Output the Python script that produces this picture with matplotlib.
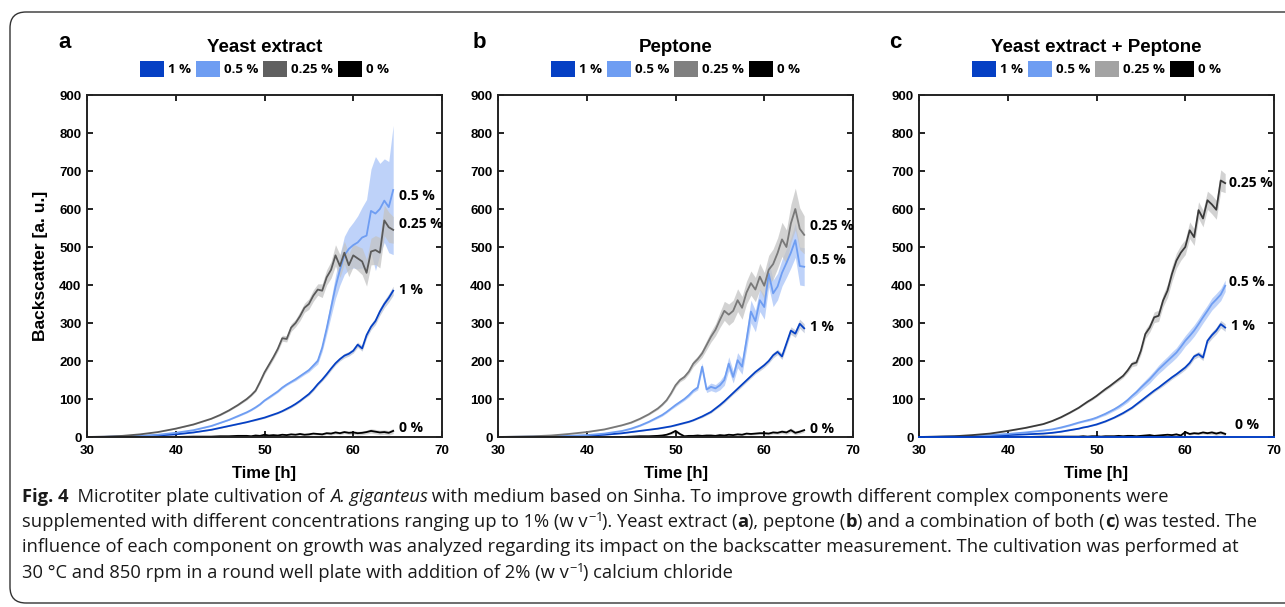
import matplotlib
matplotlib.use("Agg")
import numpy as np
import matplotlib.pyplot as plt
from matplotlib.patches import Patch, FancyBboxPatch

# time grid [h]
T = [30, 32, 34, 36, 38, 40, 42, 44, 45, 46, 47,
     48, 48.5, 49, 49.5, 50, 50.5, 51, 51.5, 52, 52.5,
     53, 53.5, 54, 54.5, 55, 55.5, 56, 56.5, 57, 57.5,
     58, 58.5, 59, 59.5, 60, 60.5, 61, 61.5, 62, 62.5,
     63, 63.5, 64, 64.5]

# panel a: yeast extract (mean and spread of backscatter)
a_1 = [0, 0.3, 1, 2, 4, 7, 12, 19, 24, 29, 34,
       39, 42, 45, 48, 51, 55, 59, 63, 68, 74,
       80, 87, 95, 104, 113, 125, 139, 151, 165, 180,
       194, 205, 214, 219, 227, 243, 233, 268, 290, 305,
       330, 350, 366, 385]
a_1_sd = [0, 0, 0, 0, 0, 1, 1, 1, 1, 1, 1,
          1, 1, 2, 2, 2, 2, 2, 2, 2, 3,
          3, 3, 3, 3, 4, 4, 4, 4, 5, 5,
          5, 5, 6, 6, 6, 7, 7, 8, 8, 9,
          10, 10, 11, 12]
a_05 = [0, 0.5, 1.5, 3, 6, 11, 18, 29, 37, 45, 55,
        65, 71, 78, 86, 96, 104, 112, 120, 130, 138,
        145, 152, 160, 168, 176, 188, 200, 235, 285, 340,
        395, 440, 478, 495, 505, 512, 525, 530, 595, 588,
        600, 622, 605, 650]
a_05_sd = [0, 0, 0, 0, 0, 1, 1, 1, 1, 1, 2,
           2, 2, 2, 2, 2, 3, 3, 3, 3, 3,
           3, 4, 4, 4, 5, 6, 8, 10, 15, 22,
           30, 40, 50, 55, 60, 70, 80, 95, 110, 150,
           120, 110, 120, 170]
a_025 = [0, 1, 3, 7, 13, 22, 33, 48, 58, 70, 84,
         100, 110, 122, 145, 170, 190, 210, 232, 260, 258,
         288, 300, 318, 340, 350, 372, 388, 385, 420, 440,
         478, 450, 485, 452, 478, 470, 462, 432, 488, 492,
         485, 570, 552, 545]
a_025_sd = [0, 0, 0, 0, 0, 1, 1, 1, 2, 2, 2,
            3, 3, 3, 4, 5, 6, 6, 7, 8, 8,
            10, 10, 12, 12, 14, 15, 15, 18, 20, 22,
            28, 30, 30, 30, 30, 32, 35, 35, 35, 38,
            40, 40, 40, 35]
a_0 = [0, 0, 0, 0, 0, 0, 1, 1, 2, 2, 3,
       3, 2, 4, 3, 6, 4, 5, 4, 6, 5,
       7, 6, 8, 6, 7, 9, 8, 7, 10, 9,
       12, 10, 13, 11, 12, 10, 11, 13, 16, 14,
       12, 13, 11, 16]
a_0_sd = [0, 0, 0, 0, 0, 0, 0, 1, 1, 1, 1,
          1, 1, 1, 1, 2, 2, 2, 2, 2, 2,
          2, 2, 3, 3, 3, 3, 3, 3, 3, 4,
          4, 4, 4, 4, 5, 5, 5, 5, 6, 6,
          6, 6, 6, 7]

# panel b: peptone
b_1 = [0, 0.2, 0.5, 1, 2, 3, 6, 10, 13, 16, 19,
       22, 24, 26, 28, 31, 34, 37, 40, 44, 49,
       54, 60, 66, 75, 84, 94, 105, 116, 127, 138,
       149, 160, 171, 180, 189, 200, 215, 224, 212, 246,
       280, 272, 298, 286]
b_1_sd = [0, 0, 0, 0, 0, 0, 1, 1, 1, 1, 1,
          1, 1, 1, 1, 2, 2, 2, 2, 2, 2,
          3, 3, 3, 3, 4, 4, 4, 4, 5, 5,
          5, 5, 5, 6, 6, 6, 7, 7, 8, 9,
          10, 10, 12, 12]
b_05 = [0, 0.5, 1, 2, 3, 5, 9, 16, 22, 30, 40,
        52, 58, 66, 75, 84, 92, 100, 110, 122, 130,
        185, 125, 132, 128, 136, 150, 193, 158, 202, 185,
        255, 330, 305, 360, 342, 430, 378, 396, 432, 458,
        485, 518, 450, 448]
b_05_sd = [0, 0, 0, 0, 0, 1, 1, 1, 2, 2, 2,
           3, 3, 3, 3, 4, 4, 4, 5, 5, 6,
           10, 8, 10, 10, 12, 14, 18, 16, 20, 20,
           25, 30, 28, 30, 32, 35, 35, 35, 35, 38,
           40, 45, 50, 50]
b_025 = [0, 1, 2, 4, 8, 13, 20, 31, 38, 48, 60,
         75, 85, 97, 115, 136, 150, 158, 172, 193, 205,
         220, 242, 264, 282, 308, 332, 322, 332, 360, 340,
         380, 405, 388, 422, 398, 440, 455, 484, 520, 500,
         562, 600, 548, 532]
b_025_sd = [0, 0, 0, 0, 0, 1, 1, 1, 2, 2, 2,
            3, 3, 3, 4, 5, 5, 6, 6, 8, 8,
            10, 12, 14, 16, 20, 25, 28, 28, 30, 30,
            30, 32, 32, 35, 35, 38, 40, 40, 45, 45,
            50, 55, 55, 50]
b_0 = [0, 0, 0, 0, 0, 0, 0, 0, 1, 2, 2,
       3, 4, 6, 10, 16, 8, 2, 3, 3, 4,
       3, 4, 4, 3, 5, 4, 6, 5, 7, 6,
       9, 8, 9, 10, 10, 9, 12, 11, 14, 12,
       18, 11, 14, 18]
b_0_sd = [0, 0, 0, 0, 0, 0, 0, 0, 1, 1, 1,
          1, 1, 2, 3, 5, 3, 1, 1, 1, 1,
          2, 2, 2, 2, 2, 2, 2, 2, 3, 3,
          3, 3, 3, 3, 4, 4, 4, 4, 5, 5,
          6, 5, 5, 5]

# panel c: yeast extract + peptone
c_1 = [0, 0.3, 1, 2, 3, 5, 7, 9, 11, 14, 18,
       22, 25, 27, 30, 33, 37, 41, 46, 51, 57,
       63, 70, 77, 86, 95, 104, 113, 122, 130, 139,
       148, 157, 165, 174, 183, 195, 212, 218, 209, 253,
       268, 280, 297, 288]
c_1_sd = [0, 0, 0, 0, 0, 0, 1, 1, 1, 1, 1,
          1, 1, 1, 1, 2, 2, 2, 2, 2, 3,
          3, 3, 3, 3, 4, 4, 4, 4, 4, 5,
          5, 5, 5, 6, 6, 6, 7, 7, 8, 8,
          9, 9, 10, 10]
c_05 = [0, 0.5, 1.5, 3, 5, 8, 12, 17, 20, 25, 31,
        38, 41, 44, 47, 51, 56, 61, 67, 73, 80,
        88, 97, 108, 118, 130, 141, 152, 165, 178, 189,
        200, 211, 222, 237, 253, 266, 280, 297, 315, 332,
        350, 362, 375, 398]
c_05_sd = [0, 0, 0, 0, 0, 1, 1, 1, 1, 2, 2,
           2, 2, 3, 3, 3, 3, 4, 4, 4, 5,
           5, 6, 6, 7, 8, 9, 10, 10, 11, 12,
           12, 13, 13, 14, 14, 15, 15, 15, 15, 15,
           16, 16, 16, 15]
c_025 = [0, 1, 2, 5, 9, 16, 24, 34, 42, 52, 64,
         77, 85, 93, 100, 108, 117, 126, 134, 143, 152,
         161, 175, 192, 196, 227, 271, 288, 315, 319, 359,
         385, 429, 464, 485, 500, 544, 526, 597, 575, 623,
         612, 598, 675, 668]
c_025_sd = [0, 0, 0, 0, 0, 1, 1, 1, 1, 2, 2,
            2, 2, 3, 3, 3, 3, 4, 4, 4, 5,
            5, 6, 7, 8, 10, 12, 12, 14, 15, 16,
            18, 20, 20, 20, 20, 22, 22, 22, 22, 24,
            25, 25, 28, 25]
c_0 = [0, 0, 0, 0, 0, 0, 0, 1, 1, 1, 1,
       1, 2, 1, 2, 2, 1, 2, 2, 2, 3,
       2, 3, 3, 2, 3, 4, 5, 3, 4, 5,
       6, 5, 7, 4, 13, 8, 10, 9, 12, 10,
       12, 9, 12, 8]
c_0_sd = [0, 0, 0, 0, 0, 0, 0, 0, 0, 0, 0,
          1, 1, 1, 1, 1, 1, 1, 1, 1, 1,
          1, 1, 1, 1, 2, 2, 2, 2, 2, 2,
          2, 2, 3, 3, 3, 3, 3, 3, 4, 4,
          5, 5, 5, 5]

conc_labels = ["1 %", "0.5 %", "0.25 %", "0 %"]
titles = ["Yeast extract", "Peptone", "Yeast extract + Peptone"]
letters = ["a", "b", "c"]

W, H = 1285, 607
BLUE = "#0540c4"
LIGHT = "#6e9df2"
ARIAL = ["Liberation Sans", "DejaVu Sans"]
SEGOE = ["Open Sans", "DejaVu Sans"]
CAPF = ["Open Sans", "DejaVu Sans"]

plt.rcParams["mathtext.default"] = "regular"

fig = plt.figure(figsize=(W / 100, H / 100), dpi=100)

# rounded frame round the whole figure (right side runs off the picture)
frame = FancyBboxPatch((10, H - 603), 1500, 591, boxstyle="round,pad=0,rounding_size=16",
                       transform=None, facecolor="none", edgecolor="#333333", lw=1.0)
fig.add_artist(frame)

panels = [
    dict(left=87, series=[(a_1, a_1_sd), (a_05, a_05_sd), (a_025, a_025_sd), (a_0, a_0_sd)],
         grey="#5a5a5a", grey_leg="#606060",
         labels=[(65.1, 387), (65.1, 634), (65.1, 560), (65.1, 24)]),
    dict(left=498, series=[(b_1, b_1_sd), (b_05, b_05_sd), (b_025, b_025_sd), (b_0, b_0_sd)],
         grey="#787878", grey_leg="#808080",
         labels=[(65.1, 290), (65.1, 466), (65.1, 555), (65.1, 21)]),
    dict(left=919, series=[(c_1, c_1_sd), (c_05, c_05_sd), (c_025, c_025_sd), (c_0, c_0_sd)],
         grey="#3a3a3a", grey_leg="#a3a3a3",
         labels=[(65.1, 292), (64.9, 408), (64.9, 668), (65.6, 31)]),
]
letter_x = [65, 479, 895]

t = np.array(T)
for i, p in enumerate(panels):
    ax = fig.add_axes([p["left"] / W, 1 - 437 / H, 355 / W, 342 / H])
    line_cols = [BLUE, LIGHT, p["grey"], "black"]
    band_cols = ["#b9c2d6", "#a9c4f7", "#c4c4c4", "#c8c8c8"]
    for (vals, sd), bc in zip(p["series"], band_cols):
        v, s = np.array(vals, float), np.array(sd, float)
        ax.fill_between(t, v - s, v + s, color=bc, alpha=0.75, lw=0)
    for (vals, sd), lc in zip(p["series"], line_cols):
        ax.plot(t, vals, color=lc, lw=1.3)
    for (lx, ly), txt in zip(p["labels"], conc_labels):
        ax.text(lx, ly, txt, family=SEGOE, weight="bold", fontsize=10,
                ha="left", va="center", clip_on=False)

    ax.set_xlim(30, 70)
    ax.set_ylim(0, 900)
    ax.set_xticks([30, 40, 50, 60, 70])
    ax.set_yticks(range(0, 901, 100))
    ax.tick_params(direction="in", top=True, right=True, length=4, width=1.4,
                   color="#222222")
    ax.tick_params(axis="x", pad=6)
    ax.tick_params(axis="y", pad=4)
    for lab in ax.get_xticklabels() + ax.get_yticklabels():
        lab.set_family(ARIAL)
        lab.set_fontweight("bold")
        lab.set_fontsize(9.5)
    for sp in ax.spines.values():
        sp.set_linewidth(1.4)
        sp.set_color("#222222")
    ax.set_xlabel("Time [h]", family=ARIAL, weight="bold", fontsize=12, labelpad=6)
    if i == 0:
        ax.set_ylabel("Backscatter [a. u.]", family=ARIAL, weight="bold", fontsize=12.5,
                      labelpad=8)
    if i == 2:
        ax.spines["bottom"].set_color(BLUE)
        for tk in ax.xaxis.get_major_ticks()[1:4]:
            tk.tick1line.set_color(BLUE)

    ax.text(0.5, 1.14, titles[i], transform=ax.transAxes, ha="center", va="center",
            family=ARIAL, weight="bold", fontsize=13.5)
    handles = [Patch(facecolor=c, edgecolor="none")
               for c in [BLUE, LIGHT, p["grey_leg"], "black"]]
    ax.legend(handles, conc_labels, loc="center", bbox_to_anchor=(0.5, 1.076), ncol=4,
              frameon=False, prop=dict(family=SEGOE, weight="bold", size=9.5),
              handlelength=1.8, handleheight=1.6, handletextpad=0.3,
              columnspacing=0.4, borderpad=0, borderaxespad=0)
    fig.text(letter_x[i] / W, 1 - 43 / H, letters[i], family=ARIAL, weight="bold",
             fontsize=16, ha="center", va="center")

# caption, drawn piece by piece so bold/italic parts sit inline
renderer = fig.canvas.get_renderer()
CAP_SIZE = 13.2


def caption_line(y_px, parts, x_px=22):
    x = x_px
    for s, style in parts:
        kw = dict(family=CAPF, fontsize=CAP_SIZE, color="#1a1a1a")
        if "b" in style:
            kw["weight"] = "bold"
        if "i" in style:
            kw["style"] = "italic"
        txt = fig.text(x / W, 1 - y_px / H, s, ha="left", va="center", **kw)
        x = txt.get_window_extent(renderer).x1


caption_line(497, [("Fig. 4", "b"), ("  Microtiter plate cultivation of ", ""),
                   ("A. giganteus", "i"),
                   (" with medium based on Sinha. To improve growth different complex components were", "")])
caption_line(522, [("supplemented with different concentrations ranging up to 1% (w v", ""),
                   ("$^{-1}$", ""), ("). Yeast extract (", ""),
                   ("a", "b"), ("), peptone (", ""), ("b", "b"),
                   (") and a combination of both (", ""), ("c", "b"), (") was tested. The", "")])
caption_line(547, [("influence of each component on growth was analyzed regarding its impact on the backscatter measurement. The cultivation was performed at", "")])
caption_line(573, [("30 °C and 850 rpm in a round well plate with addition of 2% (w v", ""),
                   ("$^{-1}$", ""), (") calcium chloride", "")])

fig.savefig("out.png", dpi=100)
